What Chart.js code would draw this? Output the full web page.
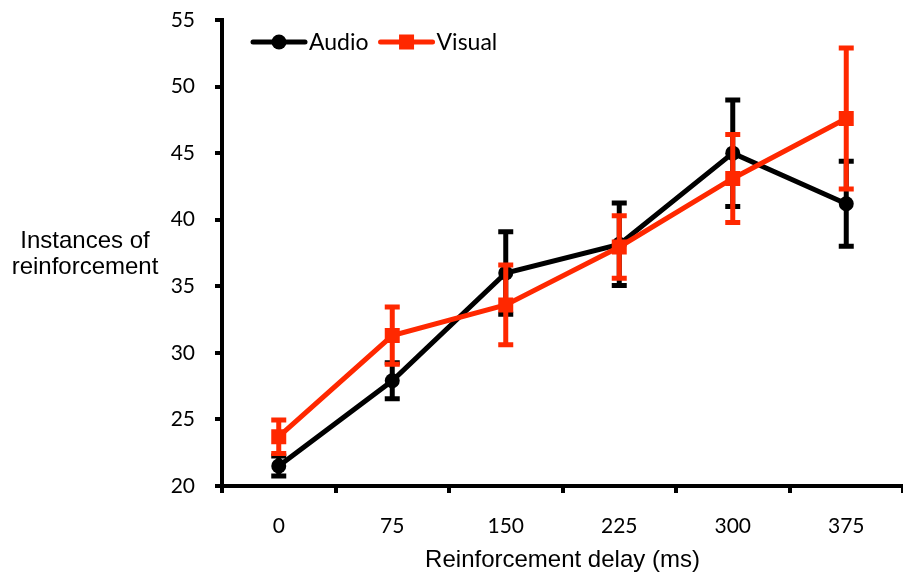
<!DOCTYPE html>
<html>
<head>
<meta charset="utf-8">
<title>Instances of reinforcement</title>
<script src="https://cdn.jsdelivr.net/npm/chart.js@4.4.1/dist/chart.umd.min.js"></script>
<style>
  html, body { margin: 0; padding: 0; background: #fff; }
</style>
</head>
<body>
<canvas id="chart" width="903" height="576"></canvas>
<script>
// Reinforcement delay categories (ms)
const delays = ['0', '75', '150', '225', '300', '375'];

// Means and error bar half-lengths
const audioMeans = [21.5, 27.9, 36.0, 38.15, 45.0, 41.2];
const audioErrors = [0.75, 1.35, 3.1, 3.1, 4.0, 3.2];
const visualMeans = [23.7, 31.3, 33.6, 37.95, 43.1, 47.6];
const visualErrors = [1.25, 2.15, 3.0, 2.35, 3.3, 5.3];

const yTicks = [20, 25, 30, 35, 40, 45, 50, 55];
const yTitleLines = ['Instances of', 'reinforcement'];
const xTitle = 'Reinforcement delay (ms)';

const BLACK = '#000000';
const RED = '#ff2800';
const TICK_FONT = { family: 'Lato', size: 21 };
const TITLE_FONT = '24px "Liberation Sans", Arial, sans-serif';

// Vertical error bars with caps, drawn under each dataset's own line
const errorBars = {
    id: 'errorBars',
    beforeDatasetDraw(chart, args) {
        const ds = chart.data.datasets[args.index];
        if (!ds.errors) return;
        const yScale = chart.scales.y;
        const ctx = chart.ctx;
        ctx.save();
        ctx.strokeStyle = ds.borderColor;
        ctx.lineWidth = 5;
        args.meta.data.forEach((pt, i) => {
            const top = yScale.getPixelForValue(ds.data[i] + ds.errors[i]);
            const bottom = yScale.getPixelForValue(ds.data[i] - ds.errors[i]);
            ctx.beginPath();
            ctx.moveTo(pt.x, top);
            ctx.lineTo(pt.x, bottom);
            ctx.moveTo(pt.x - 7.5, top);
            ctx.lineTo(pt.x + 7.5, top);
            ctx.moveTo(pt.x - 7.5, bottom);
            ctx.lineTo(pt.x + 7.5, bottom);
            ctx.stroke();
        });
        ctx.restore();
    }
};

// Horizontal y title on the left plus a line+marker legend inside the plot
const annotations = {
    id: 'annotations',
    afterDraw(chart) {
        const ctx = chart.ctx;
        const area = chart.chartArea;
        ctx.save();
        ctx.fillStyle = BLACK;
        ctx.font = TITLE_FONT;
        ctx.textAlign = 'center';
        ctx.textBaseline = 'middle';
        ctx.fillText(yTitleLines[0], 85, 241);
        ctx.fillText(yTitleLines[1], 85, 267);

        // legend
        const ly = area.top + 22;
        let lx = area.left + 29;
        ctx.font = '23px Lato';
        ctx.textAlign = 'left';
        chart.data.datasets.forEach(ds => {
            ctx.strokeStyle = ds.borderColor;
            ctx.fillStyle = ds.borderColor;
            ctx.lineWidth = 5;
            ctx.lineCap = 'round';
            ctx.beginPath();
            ctx.moveTo(lx + 2, ly);
            ctx.lineTo(lx + 54, ly);
            ctx.stroke();
            const mx = lx + 28;
            if (ds.pointStyle === 'circle') {
                ctx.beginPath();
                ctx.arc(mx, ly, 7.5, 0, Math.PI * 2);
                ctx.fill();
            } else {
                ctx.fillRect(mx - 7.5, ly - 7.5, 15, 15);
            }
            ctx.fillStyle = BLACK;
            ctx.fillText(ds.label, lx + 58, ly + 1);
            lx += 58 + ctx.measureText(ds.label).width + 10;
        });
        ctx.restore();
    }
};

new Chart(document.getElementById('chart').getContext('2d'), {
    type: 'line',
    data: {
        labels: delays,
        datasets: [{
            label: 'Audio',
            data: audioMeans,
            errors: audioErrors,
            borderColor: BLACK,
            backgroundColor: BLACK,
            borderWidth: 5,
            pointStyle: 'circle',
            pointRadius: 7.5,
            pointBorderWidth: 0,
            order: 2
        }, {
            label: 'Visual',
            data: visualMeans,
            errors: visualErrors,
            borderColor: RED,
            backgroundColor: RED,
            borderWidth: 5,
            pointStyle: 'rect',
            pointRadius: 10.6,
            pointBorderWidth: 0,
            order: 1
        }]
    },
    options: {
        responsive: false,
        animation: false,
        layout: { autoPadding: false, padding: { left: 160, right: 0, top: 20, bottom: 0 } },
        plugins: {
            legend: { display: false },
            tooltip: { enabled: false }
        },
        scales: {
            x: {
                offset: true,
                ticks: { font: TICK_FONT, color: BLACK, padding: 21 },
                grid: { drawOnChartArea: false, offset: true, color: BLACK, lineWidth: 4, tickLength: 7 },
                border: { color: BLACK, width: 4 },
                title: {
                    display: true,
                    text: xTitle,
                    color: BLACK,
                    font: { family: 'Liberation Sans', size: 24 },
                    padding: { top: 0, bottom: 1 }
                },
                afterFit(scale) {
                    scale.height = 90;
                    scale.paddingLeft = 0;
                    scale.paddingRight = 0;
                }
            },
            y: {
                min: 20,
                max: 55,
                afterBuildTicks(scale) { scale.ticks = yTicks.map(v => ({ value: v })); },
                ticks: { font: TICK_FONT, color: BLACK, padding: 20 },
                grid: { drawOnChartArea: false, color: BLACK, lineWidth: 4, tickLength: 7 },
                border: { color: BLACK, width: 4 },
                afterFit(scale) {
                    scale.width = 62;
                    scale.paddingTop = 0;
                    scale.paddingBottom = 0;
                }
            }
        }
    },
    plugins: [errorBars, annotations]
});
</script>
</body>
</html>
